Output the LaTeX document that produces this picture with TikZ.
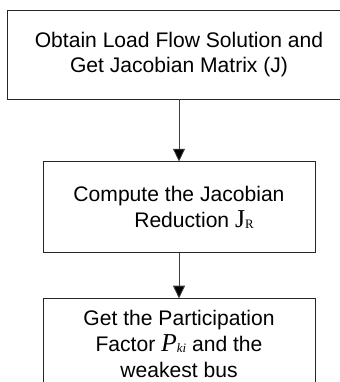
\documentclass[tikz,border=0pt]{standalone}
\usepackage{fontspec}
\setmainfont{Liberation Sans}
\newfontfamily\timesfont{Liberation Serif}
\usetikzlibrary{positioning,arrows.meta}
\newcommand{\smallsub}[1]{\raisebox{-1pt}{\fontsize{11}{11}\selectfont #1}}
\tikzset{
  stepbox/.style={rectangle,draw=black!85,line width=0.8pt,
                  minimum width=8.16cm,minimum height=2.7cm,
                  align=center,font=\fontsize{18}{22}\selectfont,
                  inner sep=2pt},
  arr/.style={-{Triangle[length=0.38cm,width=0.36cm,fill=black]},
              line width=0.7pt,color=black!75},
}

\begin{document}
\begin{tikzpicture}[node distance=1.4cm]

  %% -- frame --
  \useasboundingbox (0,0) rectangle (10.2,-11.46);

  %% -- steps --
  \node[stepbox,minimum width=10.32cm,minimum height=2.67cm]
       (lf) at (5.37,-1.635)
       {Obtain Load Flow Solution and\\Get Jacobian Matrix (J)};
  \node[stepbox,below=1.86cm of lf,minimum height=2.73cm] (jr)
       {Compute the Jacobian\\\hspace*{0.9cm}Reduction
        {\timesfont\fontsize{22}{22}\selectfont J\smallsub{R}}};
  \node[stepbox,below=1.35cm of jr] (pf)
       {Get the Participation\\Factor
        {\timesfont\itshape\fontsize{22}{22}\selectfont P\smallsub{ki}}
        and the\\weakest bus};

  %% -- arrows --
  \draw[arr] (lf) -- (jr);
  \draw[arr] (jr) -- (pf);

\end{tikzpicture}
\end{document}
